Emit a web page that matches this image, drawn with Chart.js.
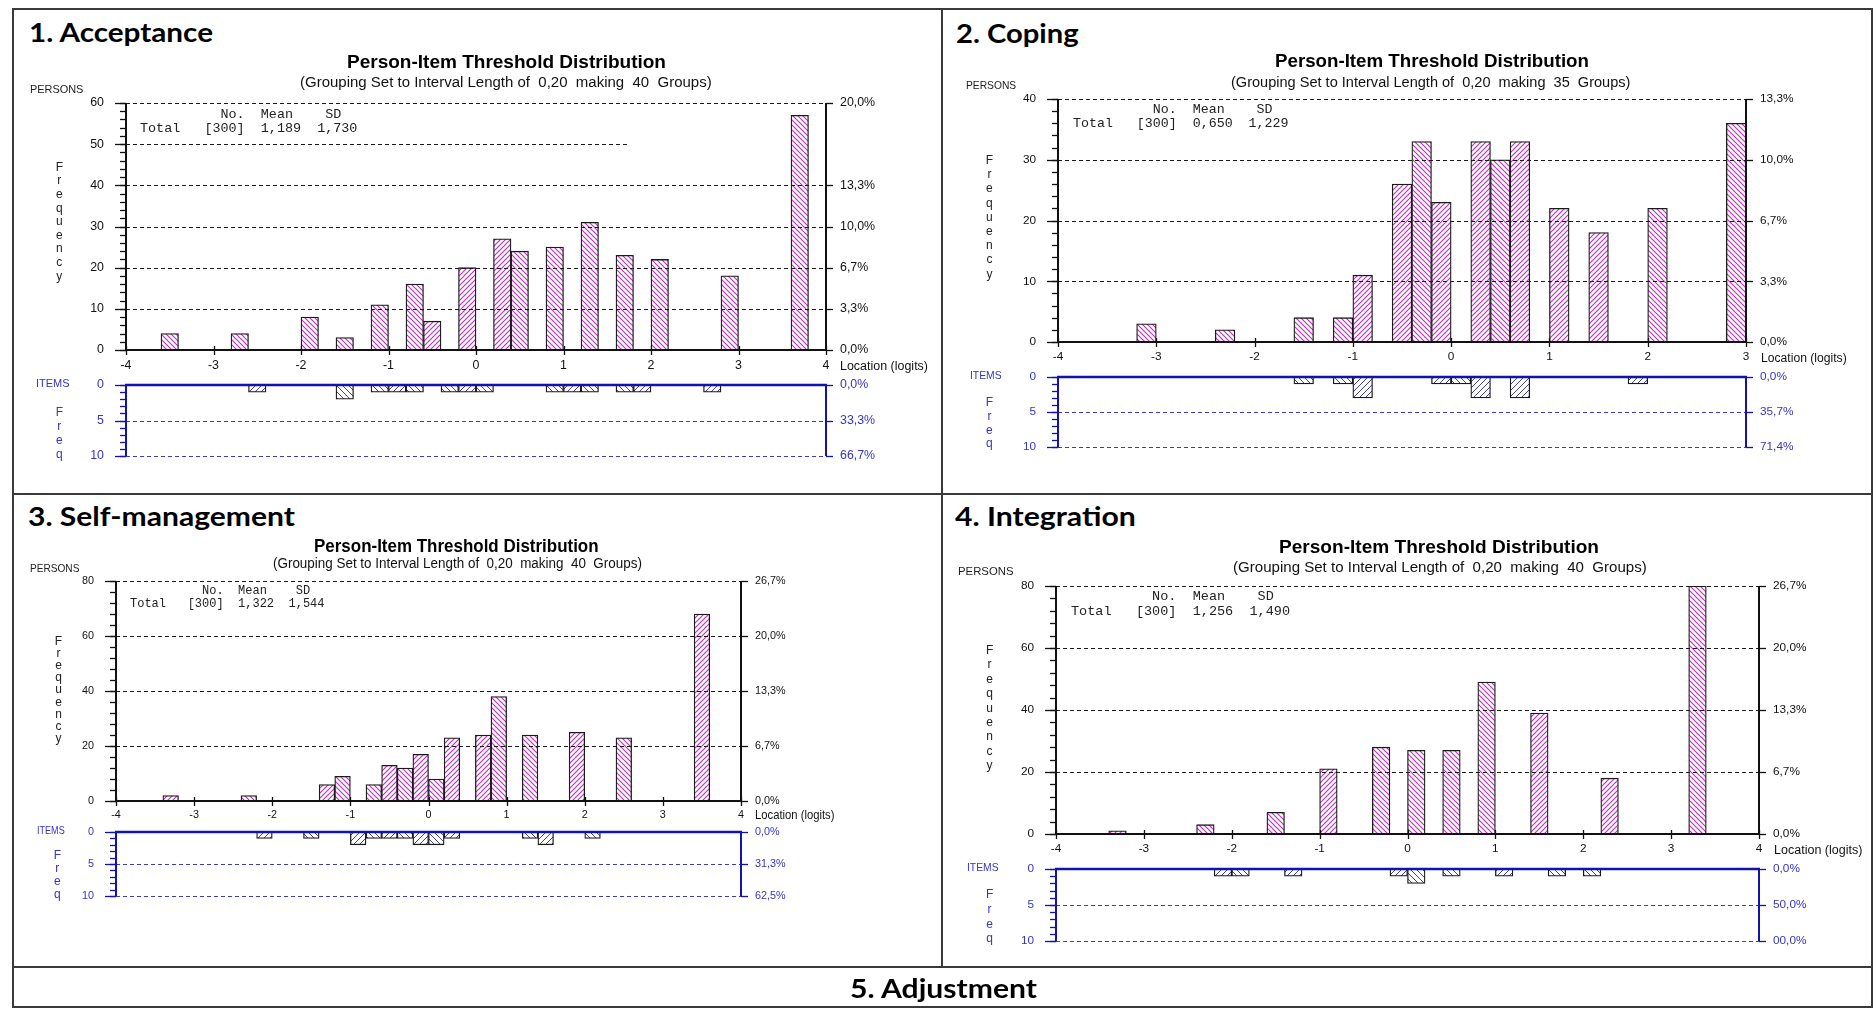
<!DOCTYPE html>
<html><head><meta charset="utf-8">
<script src="https://cdn.jsdelivr.net/npm/chart.js@4.4.1/dist/chart.umd.min.js"></script>
<style>
html,body{margin:0;padding:0;background:#fff;width:1876px;height:1009px;overflow:hidden;position:relative;}
.abs{position:absolute;white-space:pre;line-height:1;transform-origin:0 0;}
canvas{position:absolute;}
.fr{position:absolute;background:#3a3a3a;}
</style></head><body>
<script>
// ---------------- DATA ----------------
const binWidth = 0.2;
// 1. Acceptance
const p1Groups = 40, p1XRange = [-4, 4];
const p1PersonBins   = [-3.6,-2.8,-2.0,-1.6,-1.2,-0.8,-0.6,-0.2,0.2,0.4,0.8,1.2,1.6,2.0,2.8,3.6];
const p1PersonCounts = [4,4,8,3,11,16,7,20,27,24,25,31,23,22,18,57];
const p1ItemBins   = [-2.6,-1.6,-1.2,-1.0,-0.8,-0.4,-0.2,0.0,0.8,1.0,1.2,1.6,1.8,2.6];
const p1ItemCounts = [1,2,1,1,1,1,1,1,1,1,1,1,1,1];
const p1PersonTicks = [0,10,20,30,40,50,60];
const p1PctValues = [0,10,20,30,40,60];
const p1PctLabels = ['0,0%','3,3%','6,7%','10,0%','13,3%','20,0%'];
const p1ItemPctLabels = ['0,0%','33,3%','66,7%'];
const p1Stats = ['[300]','1,189','1,730'];
// 2. Coping
const p2Groups = 35, p2XRange = [-4, 3];
const p2PersonBins   = [-3.2,-2.4,-1.6,-1.2,-1.0,-0.6,-0.4,-0.2,0.2,0.4,0.6,1.0,1.4,2.0,2.8];
const p2PersonCounts = [3,2,4,4,11,26,33,23,33,30,33,22,18,22,36];
const p2ItemBins   = [-1.6,-1.2,-1.0,-0.2,0.0,0.2,0.6,1.8];
const p2ItemCounts = [1,1,3,1,1,3,3,1];
const p2PersonTicks = [0,10,20,30,40];
const p2PctValues = [0,10,20,30,40];
const p2PctLabels = ['0,0%','3,3%','6,7%','10,0%','13,3%'];
const p2ItemPctLabels = ['0,0%','35,7%','71,4%'];
const p2Stats = ['[300]','0,650','1,229'];
// 3. Self-management
const p3Groups = 40, p3XRange = [-4, 4];
const p3PersonBins   = [-3.4,-2.4,-1.4,-1.2,-0.8,-0.6,-0.4,-0.2,0.0,0.2,0.6,0.8,1.2,1.8,2.4,3.4];
const p3PersonCounts = [2,2,6,9,6,13,12,17,8,23,24,38,24,25,23,68];
const p3ItemBins   = [-2.2,-1.6,-1.0,-0.8,-0.6,-0.4,-0.2,0.0,0.2,1.2,1.4,2.0];
const p3ItemCounts = [1,1,2,1,1,1,2,2,1,1,2,1];
const p3PersonTicks = [0,20,40,60,80];
const p3PctValues = [0,20,40,60,80];
const p3PctLabels = ['0,0%','6,7%','13,3%','20,0%','26,7%'];
const p3ItemPctLabels = ['0,0%','31,3%','62,5%'];
const p3Stats = ['[300]','1,322','1,544'];
// 4. Integration
const p4Groups = 40, p4XRange = [-4, 4];
const p4PersonBins   = [-3.4,-2.4,-1.6,-1.0,-0.4,0.0,0.4,0.8,1.4,2.2,3.2];
const p4PersonCounts = [1,3,7,21,28,27,27,49,39,18,80];
const p4ItemBins   = [-2.2,-2.0,-1.4,-0.2,0.0,0.4,1.0,1.6,2.0];
const p4ItemCounts = [1,1,1,1,2,1,1,1,1];
const p4PersonTicks = [0,20,40,60,80];
const p4PctValues = [0,20,40,60,80];
const p4PctLabels = ['0,0%','6,7%','13,3%','20,0%','26,7%'];
const p4ItemPctLabels = ['0,0%','50,0%','00,0%'];
const p4Stats = ['[300]','1,256','1,490'];

const itemTicks = [0,5,10];
const titleText = 'Person-Item Threshold Distribution';
const headerLine = '          No.  Mean    SD';

// ---------------- LAYOUT ----------------
const SANS = '"Liberation Sans", Arial, sans-serif';
const panels = [
 {name:'1. Acceptance', groups:p1Groups, xr:p1XRange, pBins:p1PersonBins, pCounts:p1PersonCounts, iBins:p1ItemBins, iCounts:p1ItemCounts,
  yMax:60, yTicks:p1PersonTicks, minorStep:2, pctVals:p1PctValues, pctLabels:p1PctLabels, itemPct:p1ItemPctLabels, stats:p1Stats,
  grid:[{v:10},{v:20},{v:30},{v:40},{v:50,to:1.74},{v:60}],
  box:{l:126,r:826,t:103,b:350,it:385,ib:456}, tickFont:12.4,
  txt:{label:[28.7,32,184], title:[506,62,319], sub:[506,82.3,411.7], persons:[29.7,89.3,53.4], stats:[140.4,114,128,217.4],
       freq:[59.3,166.7,13.6], loc:[840,366,88], items:[35.6,383.3,33.6], ifreq:[59.3,411.7,14]}},
 {name:'2. Coping', groups:p2Groups, xr:p2XRange, pBins:p2PersonBins, pCounts:p2PersonCounts, iBins:p2ItemBins, iCounts:p2ItemCounts,
  yMax:40, yTicks:p2PersonTicks, minorStep:2, pctVals:p2PctValues, pctLabels:p2PctLabels, itemPct:p2ItemPctLabels, stats:p2Stats,
  grid:[{v:10},{v:20},{v:30},{v:40}],
  box:{l:1058,r:1746,t:99,b:342,it:377,ib:447}, tickFont:11.8,
  txt:{label:[955.8,32.5,122.6], title:[1432,61,314], sub:[1430.3,82.3,399.4], persons:[965.7,85,50.2], stats:[1072.5,109,123,215.5],
       freq:[989.4,160,14.2], loc:[1761,358.3,85.7], items:[969.7,375,31.6], ifreq:[989.4,402.3,13.7]}},
 {name:'3. Self-management', groups:p3Groups, xr:p3XRange, pBins:p3PersonBins, pCounts:p3PersonCounts, iBins:p3ItemBins, iCounts:p3ItemCounts,
  yMax:80, yTicks:p3PersonTicks, minorStep:4, pctVals:p3PctValues, pctLabels:p3PctLabels, itemPct:p3ItemPctLabels, stats:p3Stats,
  grid:[{v:20},{v:40},{v:60},{v:80}],
  box:{l:116,r:741,t:581,b:801,it:832,ib:896}, tickFont:10.8,
  txt:{label:[27.7,516,266.9], title:[456.7,546,284.6], sub:[457.2,562.5,368.9], persons:[29.7,567.7,49.4], stats:[129.7,590,603.3,194.5],
       freq:[58.5,641,12.1], loc:[755.3,815,79.5], items:[37.4,830,27.7], ifreq:[57.3,855,13]}},
 {name:'4. Integration', groups:p4Groups, xr:p4XRange, pBins:p4PersonBins, pCounts:p4PersonCounts, iBins:p4ItemBins, iCounts:p4ItemCounts,
  yMax:80, yTicks:p4PersonTicks, minorStep:4, pctVals:p4PctValues, pctLabels:p4PctLabels, itemPct:p4ItemPctLabels, stats:p4Stats,
  grid:[{v:20},{v:40},{v:60},{v:80}],
  box:{l:1056,r:1759,t:586,b:834,it:869,ib:941}, tickFont:11.8,
  txt:{label:[955,516,180.8], title:[1438.5,547,320], sub:[1439.4,566.7,413.8], persons:[958,571,55.5], stats:[1071.3,596.5,611.5,219],
       freq:[989.6,650,14.4], loc:[1774,850,88.4], items:[966.9,867.3,31.6], ifreq:[989.6,894.3,14.7]}}
];

// ---------------- HELPERS ----------------
function frame(x, y, w, h) {
  const d = document.createElement('div'); d.className = 'fr';
  d.style.left = x + 'px'; d.style.top = y + 'px'; d.style.width = w + 'px'; d.style.height = h + 'px';
  document.body.appendChild(d);
}
function addText(txt, o) {
  const d = document.createElement('div'); d.className = 'abs'; d.textContent = txt;
  d.style.font = o.font; d.style.color = o.color || '#111';
  document.body.appendChild(d);
  const r = d.getBoundingClientRect();
  const sx = o.sx || (o.width ? o.width / r.width : 1);
  const fw = r.width * sx;
  const left = (o.left !== undefined) ? o.left : (o.cx - fw / 2);
  d.style.left = left + 'px';
  d.style.top = (o.cy - r.height / 2) + 'px';
  if (sx !== 1) d.style.transform = 'scaleX(' + sx + ')';
  return sx;
}
function makeCanvas(left, top, w, h) {
  const c = document.createElement('canvas');
  c.width = w; c.height = h;
  c.style.left = left + 'px'; c.style.top = top + 'px';
  c.style.width = w + 'px'; c.style.height = h + 'px';
  document.body.appendChild(c);
  return c;
}
function hatch(color, back, s, lw) {
  const c = document.createElement('canvas'); c.width = s; c.height = s;
  const g = c.getContext('2d');
  g.fillStyle = '#fff'; g.fillRect(0, 0, s, s);
  g.strokeStyle = color; g.lineWidth = lw;
  g.beginPath();
  if (back) { g.moveTo(0,0); g.lineTo(s,s); g.moveTo(-2,s-2); g.lineTo(2,s+2); g.moveTo(s-2,-2); g.lineTo(s+2,2); }
  else { g.moveTo(0,s); g.lineTo(s,0); g.moveTo(-2,2); g.lineTo(2,-2); g.moveTo(s-2,s+2); g.lineTo(s+2,s-2); }
  g.stroke();
  return g.createPattern(c, 'repeat');
}
const personPats = {back: hatch('#c02cc0', true, 5, 1.1), fwd: hatch('#c02cc0', false, 5, 1.1)};
const itemPats = {back: hatch('#46468c', true, 6, 1), fwd: hatch('#46468c', false, 6, 1)};

function buildSeries(bins, counts, xmin, n) {
  const arr = new Array(n).fill(null);
  bins.forEach((b, k) => { arr[Math.round((b - xmin) / binWidth)] = counts[k]; });
  return arr;
}

function axesPlugin(cfg) {
  return {
    id: 'rummAxes',
    afterDatasetsDraw(chart) {
      const ctx = chart.ctx, a = chart.chartArea, ys = chart.scales.y, xs = chart.scales.xl;
      const L = Math.round(a.left), R = Math.round(a.right), B = Math.round(a.bottom);
      const py = v => Math.round(ys.getPixelForValue(v));
      ctx.save();
      ctx.lineWidth = 1; ctx.strokeStyle = cfg.gridColor; ctx.setLineDash([4, 3]);
      cfg.grid.forEach(g => {
        const y = py(g.v) + 0.5;
        const xe = g.to !== undefined ? xs.getPixelForValue(g.to) : R;
        ctx.beginPath(); ctx.moveTo(L, y); ctx.lineTo(xe, y); ctx.stroke();
      });
      ctx.setLineDash([]);
      ctx.strokeStyle = cfg.axisColor; ctx.lineWidth = 1.3;
      for (let v = ys.min; v <= ys.max + 1e-9; v += cfg.minorStep) {
        const y = py(v) + 0.5;
        ctx.beginPath(); ctx.moveTo(L - 6, y); ctx.lineTo(L, y); ctx.stroke();
      }
      cfg.major.forEach(v => { const y = py(v) + 0.5; ctx.beginPath(); ctx.moveTo(L - 11, y); ctx.lineTo(L, y); ctx.stroke(); });
      cfg.rightMajor.forEach(v => { const y = py(v) + 0.5; ctx.beginPath(); ctx.moveTo(R, y); ctx.lineTo(R + 7, y); ctx.stroke(); });
      if (cfg.xTicks) {
        for (let v = xs.min; v <= xs.max + 1e-9; v += 1) {
          const x = Math.round(xs.getPixelForValue(v)) + 0.5;
          ctx.beginPath(); ctx.moveTo(x, B - 4); ctx.lineTo(x, B + 5); ctx.stroke();
        }
      }
      ctx.lineWidth = cfg.axisWidth;
      ctx.beginPath();
      ctx.moveTo(L, py(ys.min)); ctx.lineTo(L, py(ys.max));
      ctx.moveTo(R, py(ys.min)); ctx.lineTo(R, py(ys.max));
      ctx.stroke();
      ctx.lineWidth = cfg.baseWidth;
      ctx.beginPath();
      const yb = py(0);
      ctx.moveTo(L - 1, yb); ctx.lineTo(R + 1, yb);
      ctx.stroke();
      ctx.restore();
    }
  };
}

const PAD = 34;
function histChart(p, isTop) {
  const L = p.box;
  const t = isTop ? L.t : L.it, b = isTop ? L.b : L.ib;
  const padT = PAD, padB = PAD;
  const cv = makeCanvas(L.l - 70, t - padT, L.r - L.l + 140, b - t + padT + padB);
  const n = p.groups;
  const labels = Array.from({length: n}, (_, i) => (p.xr[0] + i * binWidth).toFixed(1));
  const data = isTop ? buildSeries(p.pBins, p.pCounts, p.xr[0], n) : buildSeries(p.iBins, p.iCounts, p.xr[0], n);
  const pats = isTop ? personPats : itemPats;
  const tickFont = {family: SANS, size: p.tickFont};
  const leftTicks = isTop ? p.yTicks : itemTicks;
  const rightVals = isTop ? p.pctVals : itemTicks;
  const rightLabels = isTop ? p.pctLabels : p.itemPct;
  const color = isTop ? '#111' : '#3434c8';
  const yMax = isTop ? p.yMax : 10;
  const cfg = isTop
    ? {grid: p.grid, gridColor: '#1a1a1a', axisColor: '#111', axisWidth: 2, baseWidth: 2.2, minorStep: p.minorStep, major: p.yTicks, rightMajor: p.pctVals, xTicks: true}
    : {grid: [{v: 5}, {v: 10}], gridColor: '#3a3ac4', axisColor: '#1212b0', axisWidth: 2, baseWidth: 2.6, minorStep: 1, major: itemTicks, rightMajor: itemTicks, xTicks: false};
  return new Chart(cv, {
    type: 'bar',
    data: {labels, datasets: [{
      data, xAxisID: 'x', yAxisID: 'y',
      backgroundColor: c => (c.dataIndex % 2 === 0 ? pats.back : pats.fwd),
      borderColor: '#1a1a1a', borderWidth: 1.3, borderSkipped: false,
      barPercentage: 1, categoryPercentage: 1
    }]},
    options: {
      responsive: false, animation: false, devicePixelRatio: 1,
      layout: {padding: {left: 15, right: 15, top: padT, bottom: isTop ? padB - 26 : padB}},
      plugins: {legend: {display: false}, tooltip: {enabled: false}},
      scales: {
        x: {type: 'category', display: false, offset: true},
        xl: {type: 'linear', position: 'bottom', display: isTop, offset: false, min: p.xr[0], max: p.xr[1],
             ticks: {stepSize: 1, font: tickFont, color: '#111', padding: 8, autoSkip: false, maxRotation: 0},
             grid: {display: false, drawTicks: false, offset: false}, border: {display: false},
             afterFit: s => { s.height = isTop ? 26 : 0; }},
        y: {type: 'linear', position: 'left', min: 0, max: yMax, reverse: !isTop,
            afterBuildTicks: ax => { ax.ticks = leftTicks.map(v => ({value: v})); },
            ticks: {font: tickFont, color, padding: 22},
            grid: {display: false, drawTicks: false}, border: {display: false},
            afterFit: s => { s.width = 55; }},
        y2: {type: 'linear', position: 'right', min: 0, max: yMax, reverse: !isTop,
             afterBuildTicks: ax => { ax.ticks = rightVals.map(v => ({value: v})); },
             ticks: {font: tickFont, color, padding: 14, callback: (v, i) => rightLabels[i]},
             grid: {display: false, drawTicks: false}, border: {display: false},
             afterFit: s => { s.width = 55; }}
      }
    },
    plugins: [axesPlugin(cfg)]
  });
}

// ---------------- BUILD ----------------
panels.forEach(p => { histChart(p, true); histChart(p, false); });

// frame
frame(12, 8, 1861, 2); frame(12, 1006, 1861, 2);
frame(12, 8, 2, 1000); frame(1871, 8, 2, 1000);
frame(941, 8, 2, 960); frame(12, 493, 1861, 2); frame(12, 966, 1861, 2);

panels.forEach(p => {
  const T = p.txt;
  addText(p.name, {left: T.label[0], cy: T.label[1], width: T.label[2], font: '700 26px Lato, "Open Sans", sans-serif', color: '#000'});
  addText(titleText, {cx: T.title[0], cy: T.title[1], width: T.title[2], font: '700 19px ' + SANS, color: '#000'});
  addText('(Grouping Set to Interval Length of  0,20  making  ' + p.groups + '  Groups)', {cx: T.sub[0], cy: T.sub[1], width: T.sub[2], font: '14px ' + SANS, color: '#111'});
  addText('PERSONS', {left: T.persons[0], cy: T.persons[1], width: T.persons[2], font: '11px ' + SANS, color: '#222'});
  const sx = addText('Total   ' + p.stats.join('  '), {left: T.stats[0], cy: T.stats[2], width: T.stats[3], font: '13px "Liberation Mono", monospace', color: '#222'});
  addText(headerLine, {left: T.stats[0], cy: T.stats[1], sx, font: '13px "Liberation Mono", monospace', color: '#222'});
  'Frequency'.split('').forEach((ch, k) => addText(ch, {cx: T.freq[0], cy: T.freq[1] + k * T.freq[2], font: '12px ' + SANS, color: '#222'}));
  addText('Location (logits)', {left: T.loc[0], cy: T.loc[1], width: T.loc[2], font: '12.5px ' + SANS, color: '#111'});
  addText('ITEMS', {left: T.items[0], cy: T.items[1], width: T.items[2], font: '11px ' + SANS, color: '#3434c8'});
  'Freq'.split('').forEach((ch, k) => addText(ch, {cx: T.ifreq[0], cy: T.ifreq[1] + k * T.ifreq[2], font: '12px ' + SANS, color: '#3434c8'}));
});
addText('5. Adjustment', {cx: 943.4, cy: 988, width: 187, font: '700 26px Lato, "Open Sans", sans-serif', color: '#000'});
</script>
</body></html>
